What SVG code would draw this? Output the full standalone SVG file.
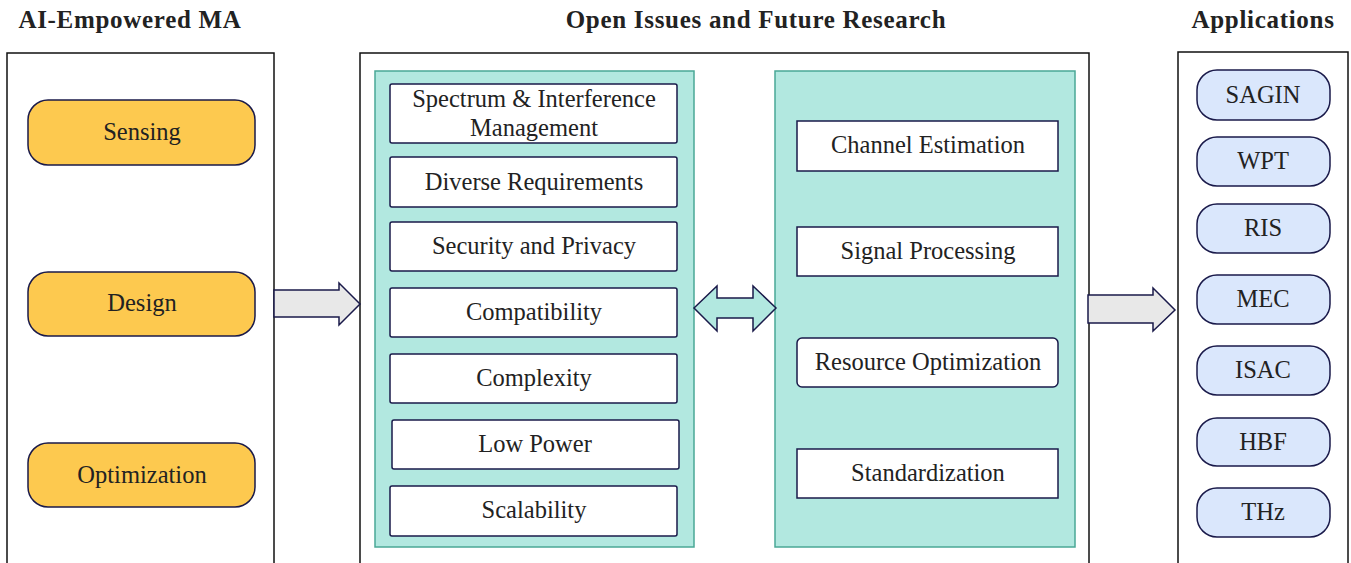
<svg xmlns="http://www.w3.org/2000/svg" width="1351" height="563" viewBox="0 0 1351 563">
<style>
.title{font-family:"Liberation Serif",serif;font-weight:bold;font-size:25px;letter-spacing:0.7px;fill:#222;text-anchor:middle}
.t{font-family:"Liberation Serif",serif;font-size:24.5px;fill:#222;text-anchor:middle;dominant-baseline:central}
.panel{fill:#fff;stroke:#111;stroke-width:1.5}
.teal{fill:#b2e8e0;stroke:#4aa896;stroke-width:1.5}
.orange{fill:#fdc94f;stroke:#1a1a4a;stroke-width:1.5}
.box{fill:#fff;stroke:#1a1a4a;stroke-width:1.5}
.app{fill:#dae7fc;stroke:#1a1a4a;stroke-width:1.5}
.arr{fill:#e8e8e8;stroke:#1a1a4a;stroke-width:1.5}
.darr{fill:#b2e8e0;stroke:#1a1a4a;stroke-width:1.5}
</style>
<rect width="1351" height="563" fill="#fff"/>
<text class="title" x="130" y="28">AI-Empowered MA</text>
<text class="title" x="756" y="28">Open Issues and Future Research</text>
<text class="title" x="1263" y="28">Applications</text>
<g id="panels">
<rect class="panel" x="7" y="53" width="267" height="520"/>
<rect class="panel" x="360" y="53" width="729" height="520"/>
<rect class="panel" x="1178" y="52" width="170" height="521"/>
<rect class="teal" x="375" y="71" width="319" height="476"/>
<rect class="teal" x="775" y="71" width="300" height="476"/>
</g>
<g id="sensing"><rect class="orange" x="28" y="100" width="227" height="65" rx="20"/><text class="t" x="142" y="131">Sensing</text></g>
<g id="design"><rect class="orange" x="28" y="272" width="227" height="64" rx="20"/><text class="t" x="142" y="302">Design</text></g>
<g id="optimization"><rect class="orange" x="28" y="443" width="227" height="64" rx="20"/><text class="t" x="142" y="474">Optimization</text></g>
<g id="spectrum"><rect class="box" x="390" y="84" width="287" height="59" rx="2"/><text class="t" x="534" y="98">Spectrum &amp; Interference</text><text class="t" x="534" y="127">Management</text></g>
<g id="diverse"><rect class="box" x="390" y="157" width="287" height="50" rx="2"/><text class="t" x="534" y="181">Diverse Requirements</text></g>
<g id="security"><rect class="box" x="390" y="222" width="287" height="49" rx="2"/><text class="t" x="534" y="245">Security and Privacy</text></g>
<g id="compatibility"><rect class="box" x="390" y="288" width="287" height="49" rx="2"/><text class="t" x="534" y="311">Compatibility</text></g>
<g id="complexity"><rect class="box" x="390" y="354" width="287" height="49" rx="2"/><text class="t" x="534" y="377">Complexity</text></g>
<g id="lowpower"><rect class="box" x="392" y="420" width="287" height="49" rx="2"/><text class="t" x="535" y="443">Low Power</text></g>
<g id="scalability"><rect class="box" x="390" y="486" width="287" height="50" rx="2"/><text class="t" x="534" y="509">Scalability</text></g>
<g id="channel"><rect class="box" x="797" y="121" width="261" height="50"/><text class="t" x="928" y="144">Channel Estimation</text></g>
<g id="signal"><rect class="box" x="797" y="227" width="261" height="49"/><text class="t" x="928" y="250">Signal Processing</text></g>
<g id="resource"><rect class="box" x="797" y="338" width="261" height="49" rx="5"/><text class="t" x="928" y="361">Resource Optimization</text></g>
<g id="standardization"><rect class="box" x="797" y="449" width="261" height="49"/><text class="t" x="928" y="472">Standardization</text></g>
<g id="sagin"><rect class="app" x="1197" y="70" width="133" height="50" rx="20"/><text class="t" x="1263" y="94">SAGIN</text></g>
<g id="wpt"><rect class="app" x="1197" y="137" width="133" height="49" rx="20"/><text class="t" x="1263" y="160">WPT</text></g>
<g id="ris"><rect class="app" x="1197" y="204" width="133" height="49" rx="20"/><text class="t" x="1263" y="227">RIS</text></g>
<g id="mec"><rect class="app" x="1197" y="275" width="133" height="49" rx="20"/><text class="t" x="1263" y="298">MEC</text></g>
<g id="isac"><rect class="app" x="1197" y="346" width="133" height="49" rx="20"/><text class="t" x="1263" y="369">ISAC</text></g>
<g id="hbf"><rect class="app" x="1197" y="418" width="133" height="48" rx="20"/><text class="t" x="1263" y="441">HBF</text></g>
<g id="thz"><rect class="app" x="1197" y="488" width="133" height="49" rx="20"/><text class="t" x="1263" y="511">THz</text></g>
<g id="connectors">
<polygon class="arr" points="274,290 339,290 339,283 360,304 339,325 339,317 274,317"/>
<polygon class="darr" points="694,308 717,286 717,298 753,298 753,286 776,308 753,331 753,318 717,318 717,331"/>
<polygon class="arr" points="1088,295 1153,295 1153,288 1175,310 1153,331 1153,323 1088,323"/>
</g>
</svg>
